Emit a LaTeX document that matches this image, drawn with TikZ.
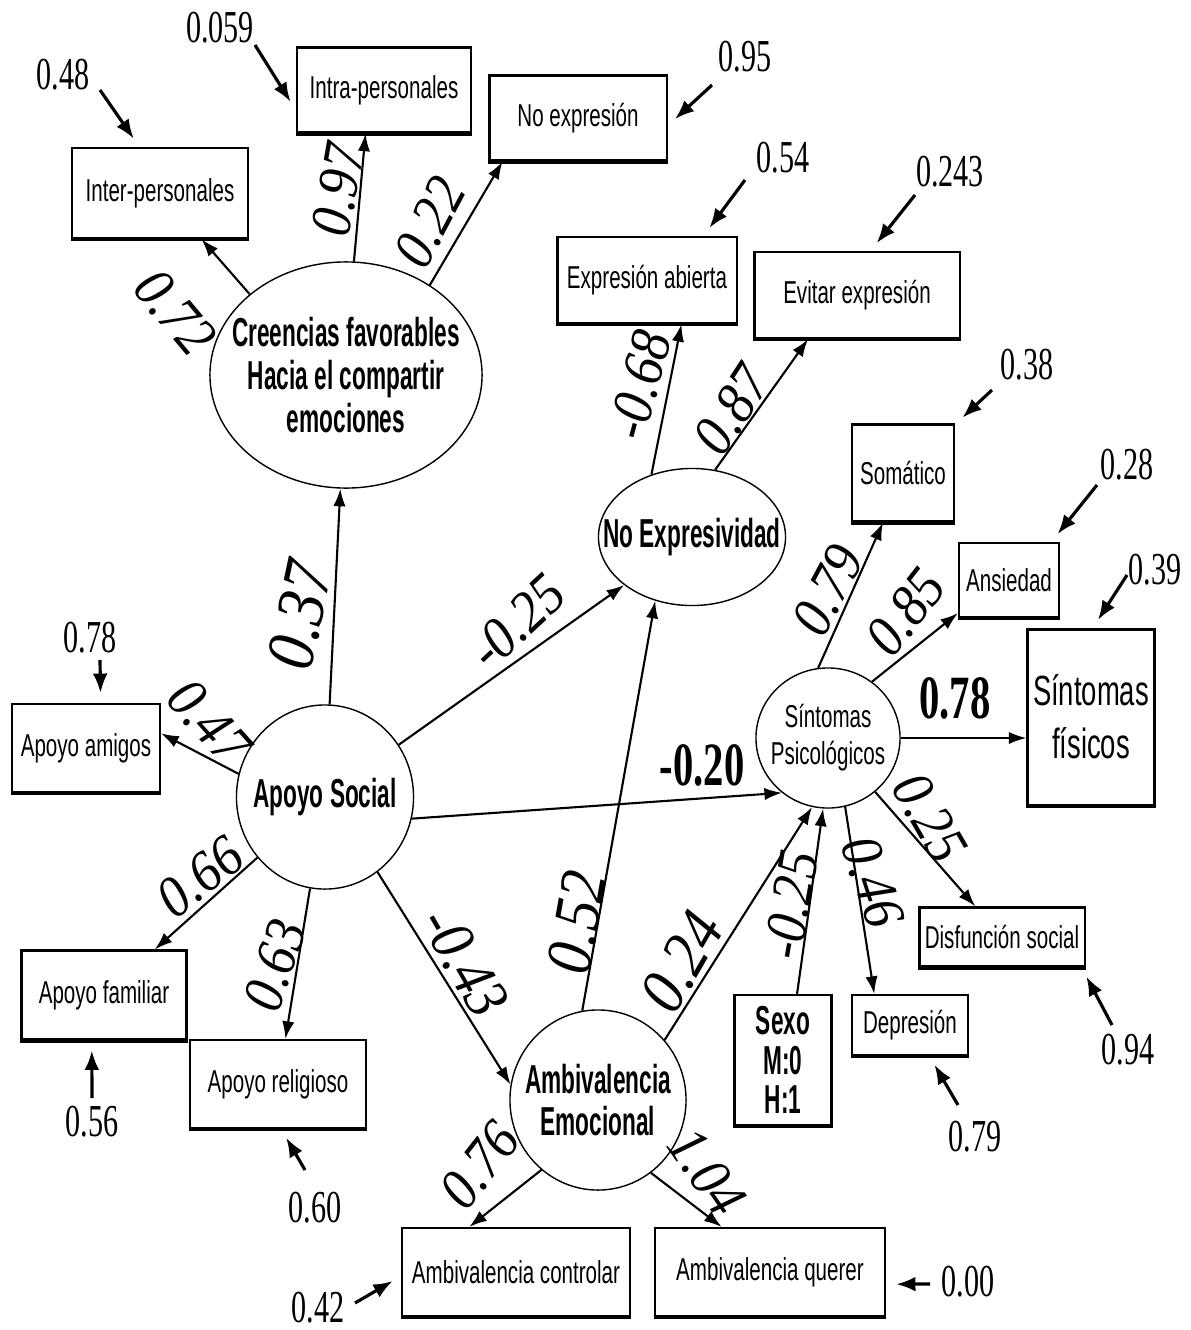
\documentclass[tikz,border=0pt]{standalone}
\usepackage{fontspec}
\usetikzlibrary{shapes.geometric,arrows.meta}
\newfontfamily\boxfont[FakeStretch=0.65]{Liberation Sans}
\newfontfamily\latentfont[FakeStretch=0.56]{Liberation Sans}
\newfontfamily\numfont[FakeStretch=0.66]{Liberation Serif}
\newfontfamily\coeffont[FakeStretch=0.9]{Liberation Serif}
\tikzset{
  obs/.style={draw, line width=0.6pt, align=center, inner sep=0pt,
    font=\boxfont\fontsize{9}{11}\selectfont,
    append after command={(\tikzlastnode.south west) edge[line width=1.2pt] (\tikzlastnode.south east)}},
  latent/.style={draw, ellipse, line width=0.4pt, inner sep=0pt},
  latenttext/.style={align=center, inner sep=0pt, font=\latentfont\bfseries\fontsize{11.5}{12.2}\selectfont},
  effect/.style={-{Latex[length=5pt,width=3.5pt]}, line width=0.6pt},
  errarrow/.style={-{Latex[length=5.5pt,width=4.2pt]}, line width=0.9pt, shorten >=0.1cm},
  errnum/.style={inner sep=0pt, font=\numfont\fontsize{13}{13}\selectfont},
  coef/.style={inner sep=0pt, font=\coeffont\itshape\fontsize{16.5}{16.5}\selectfont},
  bigcoef/.style={inner sep=0pt, font=\numfont\bfseries\fontsize{17.5}{17.5}\selectfont}
}
\begin{document}
\begin{tikzpicture}[x=0.01cm, y=-0.01cm]
\useasboundingbox (0,0) rectangle (1190,1330);
% latent variables
\node[latent, minimum width=2.72cm, minimum height=2.26cm] (creen) at (346,375) {};
\node[latenttext] (creen-txt) at (creen) {Creencias favorables\\Hacia el compartir\\emociones};
\node[latent, minimum width=1.87cm, minimum height=1.37cm] (noexp) at (692,537) {};
\node[latenttext] (noexp-txt) at (noexp) {No Expresividad};
\node[latent, minimum width=1.77cm, minimum height=1.84cm] (apoyo) at (325,797) {};
\node[latenttext] (apoyo-txt) at (apoyo) {Apoyo Social};
\node[latent, minimum width=1.44cm, minimum height=1.40cm] (sintpsi) at (828,738) {};
\node[align=center, inner sep=0pt, font=\boxfont\fontsize{9}{10.5}\selectfont] (sintpsi-txt) at (sintpsi) {Síntomas\\Psicológicos};
\node[latent, minimum width=1.76cm, minimum height=1.80cm] (ambiv) at (598,1100) {};
\node[latenttext] (ambiv-txt) at (ambiv) {Ambivalencia\\Emocional};
% observed indicators
\node[obs, minimum width=1.76cm, minimum height=0.90cm] (inter) at (160,193) {Inter-personales};
\node[obs, minimum width=1.74cm, minimum height=0.85cm] (intra) at (384,90) {Intra-personales};
\node[obs, minimum width=1.77cm, minimum height=0.85cm] (noexpr) at (578,118) {No expresión};
\node[obs, minimum width=1.79cm, minimum height=0.86cm] (abierta) at (647,280) {Expresión abierta};
\node[obs, minimum width=2.05cm, minimum height=0.86cm] (evitar) at (857,295) {Evitar expresión};
\node[obs, minimum width=1.02cm, minimum height=0.97cm] (somatico) at (903,473) {Somático};
\node[obs, minimum width=1.00cm, minimum height=0.74cm] (ansiedad) at (1009,580) {Ansiedad};
\node[obs, minimum width=1.27cm, minimum height=1.75cm, font=\boxfont\fontsize{12}{15}\selectfont] (fisicos) at (1091,717) {Síntomas\\físicos};
\node[obs, minimum width=1.48cm, minimum height=0.88cm] (amigos) at (86,748) {Apoyo amigos};
\node[obs, minimum width=1.65cm, minimum height=0.89cm] (familiar) at (104,995) {Apoyo familiar};
\node[obs, minimum width=1.76cm, minimum height=0.88cm] (religioso) at (278,1084) {Apoyo religioso};
\node[obs, minimum width=1.65cm, minimum height=0.59cm] (disf) at (1002,937) {Disfunción social};
\node[obs, minimum width=1.16cm, minimum height=0.60cm] (depresion) at (910,1025) {Depresión};
\node[obs, minimum width=0.97cm, minimum height=1.30cm, font=\latentfont\bfseries\fontsize{11.5}{11.2}\selectfont] (sexo) at (783,1060) {Sexo\\M:0\\H:1};
\node[obs, minimum width=2.27cm, minimum height=0.88cm] (controlar) at (516,1272) {Ambivalencia controlar};
\node[obs, minimum width=2.30cm, minimum height=0.88cm] (querer) at (770,1272) {Ambivalencia querer};
% measurement paths
\draw[effect] (creen.140) -- (inter.-48);
\draw[effect] (creen.86) -- (intra.247);
\draw[effect] (creen.47) -- (noexpr.210);
\draw[effect] (noexp.123) -- (abierta.-52);
\draw[effect] (noexp.71) -- (evitar.222);
\draw[effect] (apoyo.165) -- (amigos.11);
\draw[effect] (apoyo) -- (familiar);
\draw[effect] (apoyo) -- (religioso);
\draw[effect] (ambiv.231) -- (controlar.136);
\draw[effect] (ambiv.-54) -- (querer.137);
\draw[effect] (sintpsi.98) -- (somatico.248);
\draw[effect] (sintpsi.52) -- (ansiedad.213);
\draw[effect] (sintpsi) -- (disf);
\draw[effect] (sintpsi.-76) -- (depresion.139);
% structural paths
\draw[effect] (apoyo) -- (creen);
\draw[effect] (apoyo) -- (noexp);
\draw[effect] (apoyo.-14) -- (sintpsi.230);
\draw[effect] (apoyo.-55) -- (ambiv.170);
\draw[effect] (ambiv.100) -- (noexp.240);
\draw[effect] (ambiv.42) -- (sintpsi.257);
\draw[effect] (sexo.78) -- (sintpsi.266);
\draw[effect] (sintpsi.east) -- (sintpsi.east -| fisicos.west);
% coefficients
\node[coef, rotate=-50] (c-inter) at (175,312) {0.72};
\node[coef, rotate=80] (c-intra) at (338,190) {0.97};
\node[coef, rotate=62] (c-noexpr) at (430,222) {0.22};
\node[coef, rotate=75] (c-abierta) at (640,385) {-0.68};
\node[coef, rotate=57] (c-evitar) at (732,410) {0.87};
\node[coef, rotate=78, font=\coeffont\itshape\fontsize{19.5}{19.5}\selectfont] (c-creen) at (300,615) {0.37};
\node[coef, rotate=43] (c-noexp) at (517,622) {-0.25};
\node[bigcoef] (c-sintpsi) at (702,765) {-0.20};
\node[coef, rotate=-48] (c-amigos) at (209,722) {0.47};
\node[coef, rotate=38] (c-familiar) at (200,877) {0.66};
\node[coef, rotate=72] (c-religioso) at (275,965) {0.63};
\node[coef, rotate=-60, font=\coeffont\itshape\fontsize{17.5}{17.5}\selectfont] (c-ambiv) at (465,962) {-0.43};
\node[coef, rotate=80, font=\coeffont\itshape\fontsize{18.5}{18.5}\selectfont] (c-amb-noexp) at (577,922) {0.52};
\node[coef, rotate=60, font=\coeffont\itshape\fontsize{18.5}{18.5}\selectfont] (c-amb-sint) at (682,962) {0.24};
\node[coef, rotate=80] (c-sexo) at (791,905) {-0.25};
\node[coef, rotate=62] (c-somatico) at (828,590) {0.79};
\node[coef, rotate=52] (c-ansiedad) at (906,612) {0.85};
\node[bigcoef] (c-fisicos) at (955,698) {0.78};
\node[coef, rotate=-60] (c-disf) at (930,818) {0.25};
\node[coef, rotate=-72] (c-depresion) at (873,882) {0.46};
\node[coef, rotate=52] (c-controlar) at (480,1165) {0.76};
\node[coef, rotate=-55] (c-querer) at (707,1172) {1.04};
% error terms
\node[errnum] (e-inter) at (63,75) {0.48};
\coordinate (t-inter) at (100,90);
\draw[errarrow] (t-inter) -- (inter.114);
\node[errnum] (e-intra) at (220,28) {0.059};
\coordinate (t-intra) at (255,45);
\draw[errarrow] (t-intra) -- (intra.193);
\node[errnum] (e-noexpr) at (745,57) {0.95};
\coordinate (t-noexpr) at (712,85);
\draw[errarrow] (t-noexpr) -- (noexpr.-5);
\node[errnum] (e-abierta) at (783,158) {0.54};
\coordinate (t-abierta) at (745,180);
\draw[errarrow] (t-abierta) -- (abierta.38);
\node[errnum] (e-evitar) at (950,172) {0.243};
\coordinate (t-evitar) at (915,195);
\draw[errarrow] (t-evitar) -- (evitar.73);
\node[errnum] (e-somatico) at (1027,365) {0.38};
\coordinate (t-somatico) at (992,390);
\draw[errarrow] (t-somatico) -- (somatico.43);
\node[errnum] (e-ansiedad) at (1127,465) {0.28};
\coordinate (t-ansiedad) at (1097,485);
\draw[errarrow] (t-ansiedad) -- (ansiedad.42);
\node[errnum] (e-fisicos) at (1155,570) {0.39};
\coordinate (t-fisicos) at (1127,575);
\draw[errarrow] (t-fisicos) -- (fisicos.89);
\node[errnum] (e-amigos) at (90,638) {0.78};
\coordinate (t-amigos) at (100,660);
\draw[errarrow] (t-amigos) -- (amigos.72);
\node[errnum] (e-familiar) at (92,1122) {0.56};
\coordinate (t-familiar) at (92,1098);
\draw[errarrow] (t-familiar) -- (familiar.255);
\node[errnum] (e-religioso) at (315,1208) {0.60};
\coordinate (t-religioso) at (305,1170);
\draw[errarrow] (t-religioso) -- (religioso.-86);
\node[errnum] (e-controlar) at (318,1308) {0.42};
\coordinate (t-controlar) at (355,1303);
\draw[errarrow] (t-controlar) -- (controlar.182);
\node[errnum] (e-querer) at (968,1282) {0.00};
\coordinate (t-querer) at (930,1284);
\draw[errarrow] (t-querer) -- (querer.-6);
\node[errnum] (e-disf) at (1128,1050) {0.94};
\coordinate (t-disf) at (1112,1025);
\draw[errarrow] (t-disf) -- (disf.-21);
\node[errnum] (e-depresion) at (975,1137) {0.79};
\coordinate (t-depresion) at (958,1105);
\draw[errarrow] (t-depresion) -- (depresion.-58);
\end{tikzpicture}
\end{document}
